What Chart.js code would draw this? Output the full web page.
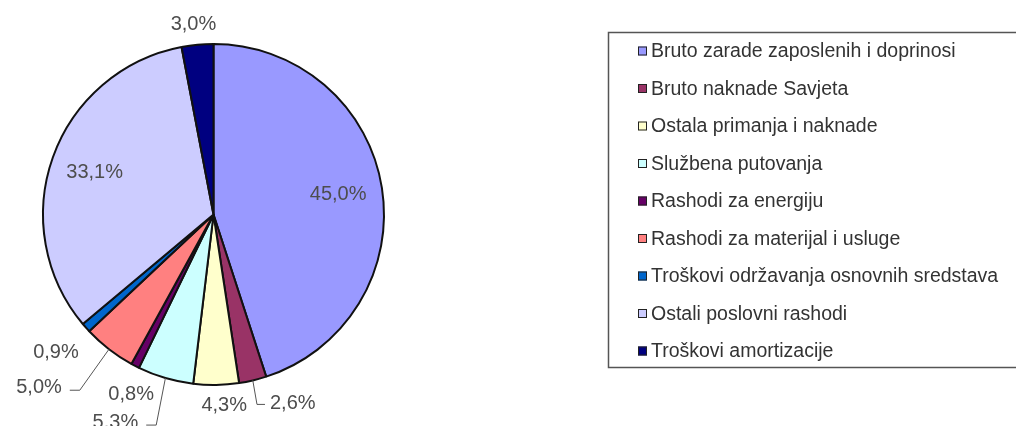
<!DOCTYPE html>
<html>
<head>
<meta charset="utf-8">
<script src="https://cdn.jsdelivr.net/npm/chart.js@4.4.1/dist/chart.umd.min.js"></script>
<style>
  html, body { margin: 0; padding: 0; background: #fff; }
  #wrap { width: 1016px; height: 426px; }
</style>
</head>
<body>
<div id="wrap"><canvas id="pie" width="1016" height="426"></canvas></div>
<script>
// Podaci
const categories = [
    'Bruto zarade zaposlenih i doprinosi',
    'Bruto naknade Savjeta',
    'Ostala primanja i naknade',
    'Službena putovanja',
    'Rashodi za energiju',
    'Rashodi za materijal i usluge',
    'Troškovi održavanja osnovnih sredstava',
    'Ostali poslovni rashodi',
    'Troškovi amortizacije'
];
const shares = [45.0, 2.6, 4.3, 5.3, 0.8, 5.0, 0.9, 33.1, 3.0];
const sliceColors = ['#9999FF', '#993366', '#FFFFCC', '#CCFFFF', '#660066', '#FF8080', '#0066CC', '#CCCCFF', '#000080'];

// Raspored oznaka (r = unutra, dx/dy = pomak od ruba isječka)
const labelPlacement = [
    { r: 0.74 },
    { dx: 40, dy: 23, leader: 'left' },
    { dx: 8, dy: 21 },
    { dx: -50, dy: 44, leader: 'right' },
    { dx: -4, dy: 29 },
    { dx: -70, dy: 38, leader: 'right' },
    { dx: -30, dy: 25 },
    { r: 0.74 },
    { dx: -4, dy: -20 }
];

const FONT = '"Liberation Sans", Arial, sans-serif';

function fmt(v) {
    return v.toFixed(1).replace('.', ',') + '%';
}

// Oznake vrijednosti s linijama
const sliceLabels = {
    id: 'sliceLabels',
    afterDatasetsDraw(chart) {
        const ctx = chart.ctx;
        const meta = chart.getDatasetMeta(0);
        ctx.save();
        ctx.font = '20px ' + FONT;
        ctx.textBaseline = 'middle';
        ctx.textAlign = 'center';
        meta.data.forEach(function(arc, i) {
            const p = arc.getProps(['x', 'y', 'startAngle', 'endAngle', 'outerRadius'], true);
            const mid = (p.startAngle + p.endAngle) / 2;
            const place = labelPlacement[i];
            const text = fmt(shares[i]);
            let lx, ly;
            const ex = p.x + Math.cos(mid) * p.outerRadius;
            const ey = p.y + Math.sin(mid) * p.outerRadius;
            if (place.r) {
                lx = p.x + Math.cos(mid) * p.outerRadius * place.r;
                ly = p.y + Math.sin(mid) * p.outerRadius * place.r;
            } else {
                lx = ex + place.dx;
                ly = ey + place.dy;
            }
            const w = ctx.measureText(text).width;
            if (place.leader) {
                ctx.strokeStyle = '#555';
                ctx.lineWidth = 1;
                ctx.beginPath();
                if (place.leader === 'left') {
                    const left = lx - w / 2;
                    ctx.moveTo(ex, ey);
                    ctx.lineTo(left - 13, ly + 1);
                    ctx.lineTo(left - 5, ly + 1);
                } else {
                    const right = lx + w / 2;
                    ctx.moveTo(ex, ey);
                    ctx.lineTo(right + 18, ly + 3);
                    ctx.lineTo(right + 8, ly + 3);
                }
                ctx.stroke();
            }
            ctx.fillStyle = '#4d4d4d';
            ctx.fillText(text, lx, ly);
        });
        ctx.restore();
    }
};

// Legenda u okviru desno
const boxLegend = {
    id: 'boxLegend',
    afterDraw(chart) {
        const ctx = chart.ctx;
        ctx.save();
        ctx.strokeStyle = '#555';
        ctx.lineWidth = 1.5;
        ctx.strokeRect(608.5, 32.5, 420, 335);
        ctx.font = '19.5px ' + FONT;
        ctx.textBaseline = 'middle';
        ctx.textAlign = 'left';
        categories.forEach(function(name, i) {
            const y = 51 + i * 37.5;
            ctx.fillStyle = sliceColors[i];
            ctx.fillRect(638, y - 4.5, 9, 9);
            ctx.strokeStyle = '#222';
            ctx.lineWidth = 1;
            ctx.strokeRect(638.5, y - 4, 8, 8);
            ctx.fillStyle = '#333';
            ctx.fillText(name, 651, y + 1);
        });
        ctx.restore();
    }
};

new Chart(document.getElementById('pie'), {
    type: 'pie',
    data: {
        labels: categories,
        datasets: [{
            data: shares,
            backgroundColor: sliceColors,
            borderColor: '#111',
            borderWidth: 2,
            hoverOffset: 0
        }]
    },
    options: {
        responsive: false,
        animation: false,
        devicePixelRatio: 1,
        events: [],
        layout: {
            padding: { left: 42, top: 43, right: 631, bottom: 40 }
        },
        plugins: {
            legend: { display: false },
            tooltip: { enabled: false }
        }
    },
    plugins: [sliceLabels, boxLegend]
});
</script>
</body>
</html>
